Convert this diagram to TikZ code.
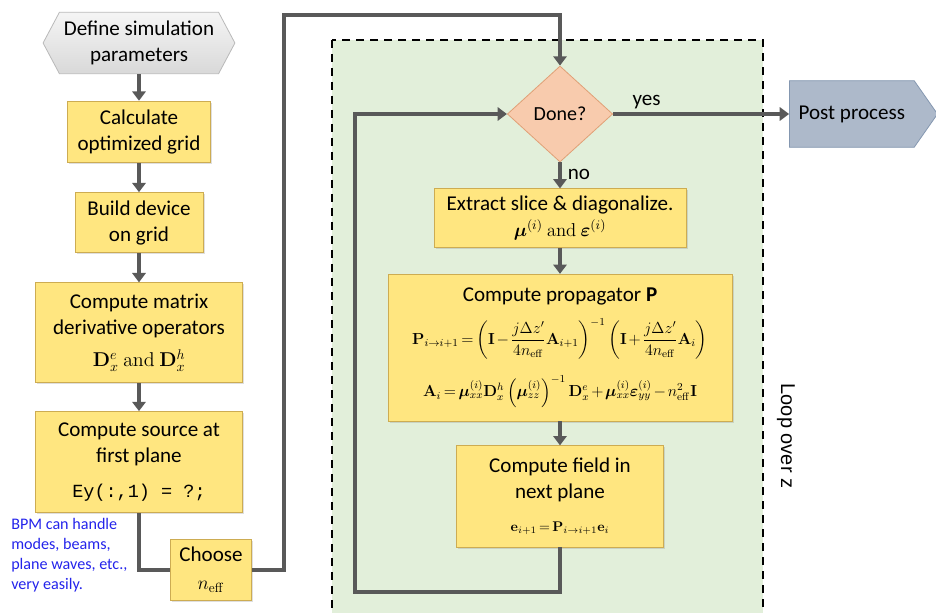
\RequirePackage{fix-cm}
\documentclass[tikz,border=0pt]{standalone}
\usepackage{amsmath}
\usepackage[no-math]{fontspec}
\setmainfont{Carlito}
\setmonofont{Liberation Mono}
\newfontfamily\arialfont{Liberation Sans}
\usetikzlibrary{positioning,arrows.meta,shapes.geometric,shapes.symbols,shadows}
\definecolor{boxyellow}{RGB}{255,230,128}
\definecolor{boxedge}{RGB}{205,172,82}
\definecolor{donefill}{RGB}{248,203,173}
\definecolor{doneedge}{RGB}{224,160,118}
\definecolor{postfill}{RGB}{173,185,202}
\definecolor{postedge}{RGB}{132,151,176}
\definecolor{loopgreen}{RGB}{226,239,218}
\definecolor{flowgray}{RGB}{89,89,89}
\definecolor{noteblue}{RGB}{35,35,235}
\newcommand{\mathsz}[1]{\fontsize{#1}{#1}\selectfont\medmuskip=2mu\thickmuskip=3mu}
\tikzstyle{process} = [
rectangle,
fill=boxyellow,
draw=boxedge,
line width=0.6pt,
text centered,
align=center,
inner sep=2pt,
drop shadow={shadow xshift=1.2pt,shadow yshift=-1.2pt,opacity=0.25},
font=\fontsize{15.8}{19.5}\selectfont
]
\tikzstyle{startbox} = [
signal,
signal to=west and east,
signal pointer angle=124,
minimum width=137pt,
minimum height=46pt,
top color=gray!8,
bottom color=gray!30,
draw=gray!55,
line width=0.6pt,
align=center,
font=\fontsize{15.8}{19.5}\selectfont
]
\tikzstyle{decision} = [
diamond,
minimum width=79pt,
minimum height=72pt,
inner sep=0pt,
fill=donefill,
draw=doneedge,
line width=0.6pt,
font=\fontsize{15}{17}\selectfont
]
\tikzstyle{endbox} = [
signal,
signal to=east,
signal pointer angle=110,
minimum width=111pt,
minimum height=50pt,
fill=postfill,
draw=postedge,
line width=0.6pt,
font=\fontsize{15.8}{18}\selectfont
]
\tikzstyle{note} = [
align=left,
text=noteblue,
inner sep=0pt,
font=\fontsize{12.1}{15}\selectfont
]
\tikzstyle{loopbox} = [
draw=black,
dash pattern=on 6pt off 4.5pt,
line width=1.6pt,
fill=loopgreen
]
\tikzstyle{arrow} = [
line width=3pt,
draw=flowgray,
-{Triangle[length=7pt,width=10pt]}
]
\tikzstyle{line} = [
line width=3pt,
draw=flowgray
]
\begin{document}
\begin{tikzpicture}[x=0.75pt,y=-0.75pt]
\useasboundingbox (0,0) rectangle (936,613);
%Loop region
\draw[loopbox] (332,40) rectangle (763,640);
%Nodes
\node[startbox] (define) at (139,43) {Define simulation\\parameters};
\node[process,minimum width=107pt,minimum height=46pt,below=20pt of define] (grid) {Calculate\\optimized grid};
\node[process,minimum width=96pt,minimum height=45pt,below=22pt of grid] (device) {Build device\\on grid};
\node[process,minimum width=155pt,minimum height=75pt,below=22pt of device] (operators) {Compute matrix\\derivative operators\\[5pt] {\mathsz{15}$\mathbf{D}_x^e\ \mathrm{and}\ \mathbf{D}_x^h$}};
\node[process,minimum width=155pt,minimum height=76pt,below=21pt of operators] (source) {Compute source at\\first plane\\[7pt] {\fontsize{13.9}{16}\selectfont\texttt{Ey(:,1) = ?;}}};
\node[process,minimum width=61pt,minimum height=46pt,below=19pt of source,xshift=54pt] (neff) {Choose\\[2pt] {\mathsz{14.4}$n_{\mathrm{eff}}$}};
\node[note,anchor=north west] (bpm) at (11,518) {BPM can handle\\modes, beams,\\plane waves, etc.,\\very easily.};
\node[decision] (done) at (560,114) {Done?};
\node[endbox,right=132pt of done] (post) {Post process};
\node[process,minimum width=189pt,minimum height=44pt,below=19.5pt of done] (slice) {Extract slice \& diagonalize.\\ {\mathsz{14}$\boldsymbol{\mu}^{(i)}\ \mathrm{and}\ \boldsymbol{\varepsilon}^{(i)}$}};
\node[process,minimum width=258pt,minimum height=110pt,below=19.5pt of slice] (propagator) {Compute propagator \textbf{P}\\[9pt]
{\mathsz{12}$\mathbf{P}_{i\rightarrow i+1}=\left(\mathbf{I}-\dfrac{j\Delta z'}{4n_{\mathrm{eff}}}\mathbf{A}_{i+1}\right)^{-1}\left(\mathbf{I}+\dfrac{j\Delta z'}{4n_{\mathrm{eff}}}\mathbf{A}_{i}\right)$}\\[11pt]
{\mathsz{12}$\mathbf{A}_i=\boldsymbol{\mu}_{xx}^{(i)}\mathbf{D}_x^h\left(\boldsymbol{\mu}_{zz}^{(i)}\right)^{-1}\mathbf{D}_x^e+\boldsymbol{\mu}_{xx}^{(i)}\boldsymbol{\varepsilon}_{yy}^{(i)}-n_{\mathrm{eff}}^2\mathbf{I}$}};
\node[process,minimum width=155pt,minimum height=76pt,below=18pt of propagator] (field) {Compute field in\\next plane\\[5pt] {\mathsz{10.5}$\mathbf{e}_{i+1}=\mathbf{P}_{i\rightarrow i+1}\mathbf{e}_i$}};
\node[rotate=-90,font=\arialfont\fontsize{15}{17}\selectfont] (loopz) at (786,436) {Loop over z};
\coordinate (topbend) at (284,15);
\coordinate (loopbend) at (355,592);
%Arrows
\draw[arrow] (define.south) -- (grid.north);
\draw[arrow] (grid.south) -- (device.north);
\draw[arrow] (device.south) -- (operators.north);
\draw[arrow] (operators.south) -- (source.north);
\draw[line] (source.south) |- (neff.west);
\draw[arrow] (neff.east) -| (topbend) -| (done.north);
\draw[arrow] (done.east) -- node[above=-1pt,pos=0.19,font=\fontsize{15.8}{18}\selectfont]{yes} (post.west);
\draw[arrow] (done.south) -- node[right=1pt,pos=0.45,font=\fontsize{15.8}{18}\selectfont]{no} (slice.north);
\draw[arrow] (slice.south) -- (propagator.north);
\draw[arrow] (propagator.south) -- (field.north);
\draw[arrow] (field.south) |- (loopbend) |- (done.west);
\end{tikzpicture}
\end{document}
